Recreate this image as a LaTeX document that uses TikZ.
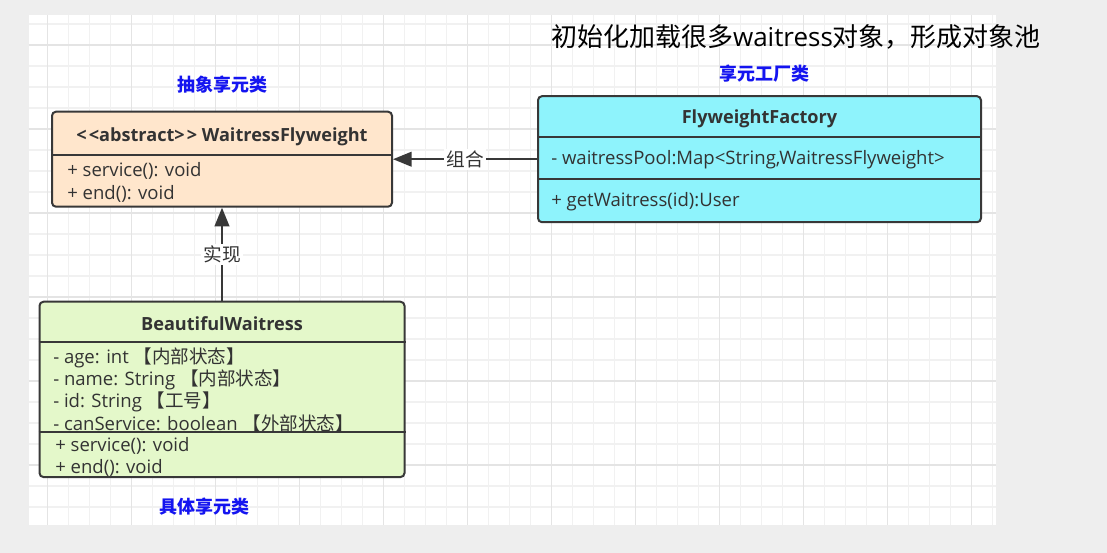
\documentclass[tikz,border=0pt]{standalone}
\usepackage{fontspec}
\setmainfont{Open Sans}
\newfontfamily\cjk{Noto Sans CJK SC}
\usetikzlibrary{arrows.meta, positioning}

\definecolor{pageGray}{HTML}{EEEEEE}
\definecolor{gridMinor}{HTML}{F1F1F1}
\definecolor{gridMajor}{HTML}{E4E4E4}
\definecolor{edgeGray}{HTML}{383838}
\definecolor{textGray}{HTML}{333333}
\definecolor{peachFill}{HTML}{FFE6CC}
\definecolor{cyanFill}{HTML}{8EF3FC}
\definecolor{greenFill}{HTML}{E4F8CA}
\definecolor{roleBlue}{HTML}{1414F0}

\newcommand{\zh}[1]{{\cjk #1}}

\begin{document}
\begin{tikzpicture}[
        x=0.75pt, y=-0.75pt,
        classBox/.style={
          rectangle,
          draw=edgeGray,
          line width=1.5pt,
          rounded corners=3pt,
          inner sep=0pt
        },
        divider/.style={draw=edgeGray, line width=1.5pt},
        className/.style={
          font=\fontsize{13.6}{16}\selectfont\bfseries,
          text=textGray,
          inner sep=0pt
        },
        members/.style={
          font=\fontsize{13.9}{16.65}\selectfont,
          text=textGray,
          align=left,
          inner sep=0pt
        },
        roleLabel/.style={
          font=\cjk\fontsize{13.5}{16}\selectfont\bfseries,
          text=roleBlue,
          inner sep=0pt
        },
        line/.style={-{Triangle[length=14pt, width=11pt]}, line width=1.5pt, draw=edgeGray},
        lineLabel/.style={
          font=\cjk\fontsize{14}{16}\selectfont,
          text=textGray,
          fill=white,
          inner sep=1.5pt
        }
    ]
    \useasboundingbox (0,0) rectangle (1107,553);

    % Canvas and grid
    \fill[pageGray] (0,0) rectangle (1107,553);
    \fill[white] (28.6,15) rectangle (996,525);
    \foreach \gx in {47.7,68.7,...,993} \draw[gridMinor, line width=0.9pt] (\gx,15) -- (\gx,525);
    \foreach \gy in {24,45,...,520} \draw[gridMinor, line width=0.9pt] (28.6,\gy) -- (996,\gy);
    \foreach \gx in {47.7,131.7,...,993} \draw[gridMajor, line width=0.9pt] (\gx,15) -- (\gx,525);
    \foreach \gy in {45,129,...,520} \draw[gridMajor, line width=0.9pt] (28.6,\gy) -- (996,\gy);

    % Define the nodes
    \node[classBox, fill=peachFill, minimum width=255pt, minimum height=71.25pt] (waitressFlyweight) at (222,159.2) {};
    \node[classBox, fill=cyanFill, minimum width=332.25pt, minimum height=94.5pt] (flyweightFactory) at (759.5,159.2) {};
    \node[classBox, fill=greenFill, minimum width=273.75pt, minimum height=131.5pt] (beautifulWaitress) at (222,389.4) {};

    % Compartment lines
    \draw[divider] ([yshift=-33.2pt]waitressFlyweight.north west) -- ([yshift=-33.2pt]waitressFlyweight.north east);
    \draw[divider] ([yshift=-31.5pt]flyweightFactory.north west) -- ([yshift=-31.5pt]flyweightFactory.north east);
    \draw[divider] ([yshift=-63pt]flyweightFactory.north west) -- ([yshift=-63pt]flyweightFactory.north east);
    \draw[divider] ([yshift=-30.75pt]beautifulWaitress.north west) -- ([yshift=-30.75pt]beautifulWaitress.north east);
    \draw[divider] ([yshift=-98.25pt]beautifulWaitress.north west) -- ([yshift=-98.25pt]beautifulWaitress.north east);

    % Class texts
    \node[className] (wfName) at (222,136.5) {{<}\kern1.5pt{<}abstract{>}\kern1.5pt{>} WaitressFlyweight};
    \node[members, anchor=west] (wfOps) at (67,182.5) {+ service(): void\\+ end(): void};

    \node[className] (ffName) at (759.5,118.5) {FlyweightFactory};
    \node[members, anchor=west] (ffAttrs) at (551,159.5) {- waitressPool:Map<String,WaitressFlyweight>};
    \node[members, anchor=west] (ffOps) at (551,201.5) {+ getWaitress(id):User};

    \node[className] (bwName) at (222,324) {BeautifulWaitress};
    \node[members, anchor=west] (bwAttrs) at (53,389.8) {- age: int \zh{【内部状态】}\\- name: String \zh{【内部状态】}\\- id: String \zh{【工号】}\\- canService: boolean \zh{【外部状态】}};
    \node[members, anchor=west] (bwOps) at (55,457) {+ service(): void\\+ end(): void};

    % Role labels and note
    \node[roleLabel] (abstractRole) at (222,85) {抽象享元类};
    \node[roleLabel] (factoryRole) at (764,74) {享元工厂类};
    \node[roleLabel] (concreteRole) at (204,507) {具体享元类};
    \node[font=\fontsize{19.5}{22}\selectfont, text=black] (poolNote) at (796,37) {\zh{初始化加载很多}waitress\zh{对象，形成对象池}};

    % Connect the nodes
    \draw[line] (flyweightFactory.west) -- node[lineLabel] {组合} (waitressFlyweight.east);
    \draw[line] (beautifulWaitress.north) -- node[lineLabel] {实现} (waitressFlyweight.south);

\end{tikzpicture}
\end{document}
